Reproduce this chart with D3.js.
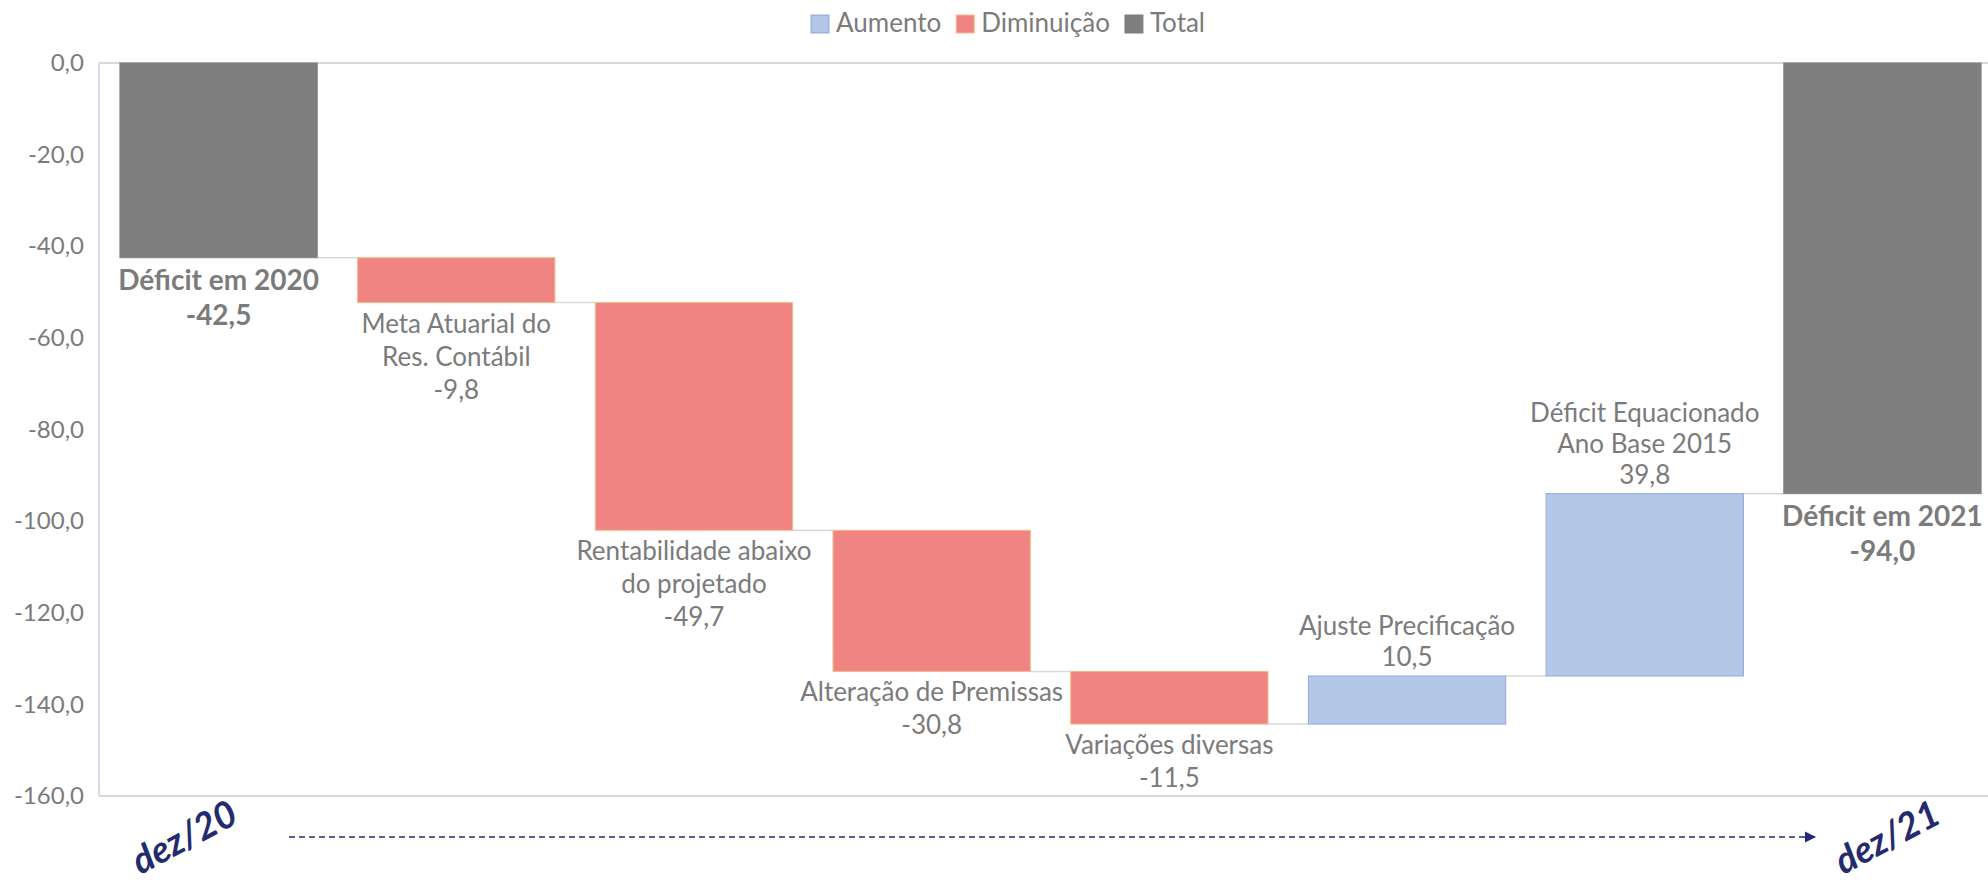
<!DOCTYPE html>
<html><head><meta charset="utf-8">
<script src="https://cdn.jsdelivr.net/npm/d3@7"></script>
<style>
html,body{margin:0;padding:0;background:#fff;overflow:hidden;}
svg{display:block;font-family:Lato,"Open Sans",sans-serif;}
</style></head>
<body>
<svg id="chart" width="1988" height="883"></svg>
<script>
// ---- data ----
const categories = ["Déficit em 2020","Meta Atuarial do Res. Contábil","Rentabilidade abaixo do projetado","Alteração de Premissas","Variações diversas","Ajuste Precificação","Déficit Equacionado Ano Base 2015","Déficit em 2021"];
const labelLines = [["Déficit em 2020"],["Meta Atuarial do","Res. Contábil"],["Rentabilidade abaixo","do projetado"],["Alteração de Premissas"],["Variações diversas"],["Ajuste Precificação"],["Déficit Equacionado","Ano Base 2015"],["Déficit em 2021"]];
const values = [-42.5, -9.8, -49.7, -30.8, -11.5, 10.5, 39.8, -94.0];
const kinds = ["total","dec","dec","dec","dec","inc","inc","total"];
const yTicks = [0,-20,-40,-60,-80,-100,-120,-140,-160];
const legendItems = [["Aumento","inc"],["Diminuição","dec"],["Total","total"]];
const periodLabels = ["dez/20","dez/21"];

const fill = {inc:"#b4c7e7", dec:"#f08482", total:"#7f7f7f"};
const strokeC = {inc:"#8faadc", dec:"#f6b98a", total:"#7f7f7f"};
const textC = "#7b7b7b";
const navy = "#232a6e";
const fmt = v => d3.format(".1f")(v).replace(".", ",").replace("−","-");

// build waterfall
let run = 0;
const rows = values.map((v,i)=>{
  let y0, y1;
  if (kinds[i]==="total"){ y0 = 0; y1 = v; run = v; }
  else { y0 = run; y1 = run + v; run = y1; }
  return {cat:categories[i], lines:labelLines[i], v, kind:kinds[i], y0, y1};
});

const svg = d3.select("#chart");
const x = d3.scaleBand().domain(categories).range([99,2002]).paddingInner(0.17).paddingOuter(0.088);
const y = d3.scaleLinear().domain([-160,0]).range([796,63]);

// axes lines
svg.append("line").attr("x1",99).attr("x2",1988).attr("y1",y(0)).attr("y2",y(0)).attr("stroke","#d9d9d9").attr("stroke-width",2);
svg.append("line").attr("x1",99).attr("x2",1988).attr("y1",y(-160)).attr("y2",y(-160)).attr("stroke","#d9d9d9").attr("stroke-width",2);
svg.append("line").attr("x1",99).attr("x2",99).attr("y1",y(0)).attr("y2",y(-160)).attr("stroke","#d6dce8").attr("stroke-width",2);

// y axis
const yAxis = d3.axisLeft(y).tickValues(yTicks).tickFormat(fmt).tickSize(0).tickPadding(15);
const ga = svg.append("g").attr("transform","translate(99,0)").call(yAxis);
ga.select(".domain").remove();
ga.selectAll("text").attr("fill",textC).style("font-size","24px").style("font-family","Lato,sans-serif");

// connectors
rows.forEach((r,i)=>{
  if(i<rows.length-1){
    svg.append("line")
      .attr("x1",x(r.cat)+x.bandwidth()).attr("x2",x(rows[i+1].cat))
      .attr("y1",y(r.y1)).attr("y2",y(r.y1))
      .attr("stroke","#d9d9d9").attr("stroke-width",1.5);
  }
});

// bars
svg.selectAll("rect.bar").data(rows).enter().append("rect")
  .attr("x",d=>x(d.cat)).attr("width",x.bandwidth())
  .attr("y",d=>y(Math.max(d.y0,d.y1))).attr("height",d=>Math.abs(y(d.y0)-y(d.y1)))
  .attr("fill",d=>fill[d.kind]).attr("stroke",d=>strokeC[d.kind]).attr("stroke-width",1);

// labels
rows.forEach(r=>{
  const cx = x(r.cat)+x.bandwidth()/2;
  const isTotal = r.kind==="total";
  const lines = r.lines.concat([fmt(r.v)]);
  const fs = isTotal ? 28 : 26;
  let lineH, startY;
  if (r.kind==="inc"){
    lineH = 31;
    const top = y(r.y1);
    startY = top - 10 - (lines.length-1)*lineH;
  } else if (isTotal) {
    lineH = 35;
    startY = y(r.v) + 32;
  } else {
    lineH = 33;
    startY = y(r.y1) + 30;
  }
  const t = svg.append("text").attr("text-anchor","middle").attr("fill",textC)
     .style("font-size",fs+"px").style("font-weight",isTotal?"700":"400");
  lines.forEach((ln,k)=>{
    t.append("tspan").attr("x",cx).attr("y",startY+k*lineH).text(ln);
  });
});

// legend
const lg = svg.append("g");
let lx = 811;
legendItems.forEach(([name,k])=>{
  lg.append("rect").attr("x",lx).attr("y",15).attr("width",18).attr("height",18)
    .attr("fill",fill[k]).attr("stroke",strokeC[k]).attr("stroke-width",1);
  const t = lg.append("text").attr("x",lx+25).attr("y",32).attr("fill",textC).style("font-size","26px").text(name);
  lx += 25 + t.node().getComputedTextLength() + 15;
});

// period arrow
const defs = svg.append("defs");
defs.append("marker").attr("id","arr").attr("viewBox","0 0 10 10").attr("refX",9).attr("refY",5)
  .attr("markerWidth",7).attr("markerHeight",7).attr("orient","auto")
  .append("path").attr("d","M0,0L10,5L0,10Z").attr("fill",navy);
svg.append("line").attr("x1",289).attr("x2",1815).attr("y1",837).attr("y2",837)
  .attr("stroke",navy).attr("stroke-width",1.6).attr("stroke-dasharray","6,4").attr("marker-end","url(#arr)");

[[184,837],[1887,837]].forEach((p,i)=>{
  svg.append("text").attr("transform",`translate(${p[0]},${p[1]}) rotate(-28)`)
    .attr("text-anchor","middle").attr("dy","0.35em").attr("fill",navy)
    .style("font-size","37px").style("font-weight","700").style("font-style","italic")
    .text(periodLabels[i]);
});
</script>
</body></html>
